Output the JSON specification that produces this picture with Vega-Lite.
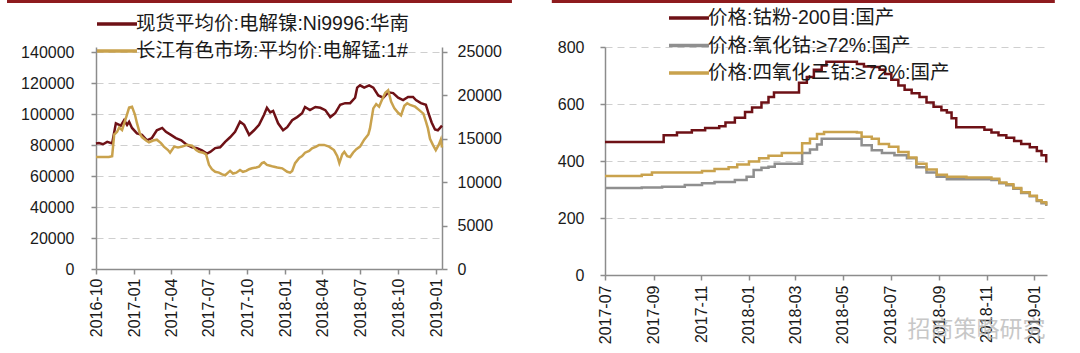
{
  "$schema": "https://vega.github.io/schema/vega-lite/v6.json",
  "autosize": {"type": "pad"},
  "padding": {"left": 5, "top": 0, "right": 5, "bottom": 5},
  "background": "white",
  "spacing": 163,
  "bounds": "flush",
  "resolve": {"scale": {"color": "independent"}, "legend": {"color": "independent"}},
  "config": {
    "view": {"stroke": null},
    "axis": {
      "domainColor": "#8c8c8c", "domainWidth": 1.5,
      "tickColor": "#8c8c8c", "tickSize": 5, "tickWidth": 1.5,
      "labelFont": "Liberation Sans", "labelFontSize": 16, "labelColor": "#1a1a1a",
      "gridColor": "#cfcfcf", "gridDash": [7, 5], "gridWidth": 1
    },
    "legend": {
      "orient": "none", "direction": "vertical", "symbolType": "M-2,0H2",
      "symbolSize": 400, "symbolStrokeWidth": 3.5,
      "labelFont": "Liberation Sans, Noto Sans CJK SC", "labelFontSize": 19.5,
      "labelColor": "#1a1a1a", "labelLimit": 600, "labelOffset": 7, "rowPadding": 5
    }
  },
  "datasets": {
    "ni": [
      {"date": "2016/10/01", "series": "现货平均价:电解镍:Ni9996:华南", "value": 81000},
      {"date": "2016/10/08", "series": "现货平均价:电解镍:Ni9996:华南", "value": 81300},
      {"date": "2016/10/18", "series": "现货平均价:电解镍:Ni9996:华南", "value": 80500},
      {"date": "2016/10/28", "series": "现货平均价:电解镍:Ni9996:华南", "value": 82000},
      {"date": "2016/11/09", "series": "现货平均价:电解镍:Ni9996:华南", "value": 81000},
      {"date": "2016/11/18", "series": "现货平均价:电解镍:Ni9996:华南", "value": 94000},
      {"date": "2016/11/30", "series": "现货平均价:电解镍:Ni9996:华南", "value": 92500},
      {"date": "2016/12/08", "series": "现货平均价:电解镍:Ni9996:华南", "value": 96000},
      {"date": "2016/12/15", "series": "现货平均价:电解镍:Ni9996:华南", "value": 93000},
      {"date": "2016/12/20", "series": "现货平均价:电解镍:Ni9996:华南", "value": 95000},
      {"date": "2016/12/27", "series": "现货平均价:电解镍:Ni9996:华南", "value": 91000},
      {"date": "2017/01/08", "series": "现货平均价:电解镍:Ni9996:华南", "value": 87500},
      {"date": "2017/01/20", "series": "现货平均价:电解镍:Ni9996:华南", "value": 86500},
      {"date": "2017/02/01", "series": "现货平均价:电解镍:Ni9996:华南", "value": 83000},
      {"date": "2017/02/13", "series": "现货平均价:电解镍:Ni9996:华南", "value": 84500},
      {"date": "2017/02/25", "series": "现货平均价:电解镍:Ni9996:华南", "value": 89500},
      {"date": "2017/03/10", "series": "现货平均价:电解镍:Ni9996:华南", "value": 91000},
      {"date": "2017/03/19", "series": "现货平均价:电解镍:Ni9996:华南", "value": 88500},
      {"date": "2017/03/31", "series": "现货平均价:电解镍:Ni9996:华南", "value": 86500},
      {"date": "2017/04/12", "series": "现货平均价:电解镍:Ni9996:华南", "value": 84500},
      {"date": "2017/04/25", "series": "现货平均价:电解镍:Ni9996:华南", "value": 83000},
      {"date": "2017/05/09", "series": "现货平均价:电解镍:Ni9996:华南", "value": 80000},
      {"date": "2017/05/21", "series": "现货平均价:电解镍:Ni9996:华南", "value": 78500},
      {"date": "2017/06/02", "series": "现货平均价:电解镍:Ni9996:华南", "value": 78000},
      {"date": "2017/06/14", "series": "现货平均价:电解镍:Ni9996:华南", "value": 76500},
      {"date": "2017/06/26", "series": "现货平均价:电解镍:Ni9996:华南", "value": 74500},
      {"date": "2017/07/04", "series": "现货平均价:电解镍:Ni9996:华南", "value": 75500},
      {"date": "2017/07/16", "series": "现货平均价:电解镍:Ni9996:华南", "value": 78000},
      {"date": "2017/07/28", "series": "现货平均价:电解镍:Ni9996:华南", "value": 78500},
      {"date": "2017/08/09", "series": "现货平均价:电解镍:Ni9996:华南", "value": 82000},
      {"date": "2017/08/21", "series": "现货平均价:电解镍:Ni9996:华南", "value": 85000},
      {"date": "2017/09/02", "series": "现货平均价:电解镍:Ni9996:华南", "value": 88500},
      {"date": "2017/09/14", "series": "现货平均价:电解镍:Ni9996:华南", "value": 95000},
      {"date": "2017/09/24", "series": "现货平均价:电解镍:Ni9996:华南", "value": 93000},
      {"date": "2017/10/06", "series": "现货平均价:电解镍:Ni9996:华南", "value": 86500},
      {"date": "2017/10/18", "series": "现货平均价:电解镍:Ni9996:华南", "value": 89500},
      {"date": "2017/10/30", "series": "现货平均价:电解镍:Ni9996:华南", "value": 93000},
      {"date": "2017/11/11", "series": "现货平均价:电解镍:Ni9996:华南", "value": 99500},
      {"date": "2017/11/18", "series": "现货平均价:电解镍:Ni9996:华南", "value": 104000},
      {"date": "2017/11/26", "series": "现货平均价:电解镍:Ni9996:华南", "value": 101000},
      {"date": "2017/12/03", "series": "现货平均价:电解镍:Ni9996:华南", "value": 102000},
      {"date": "2017/12/15", "series": "现货平均价:电解镍:Ni9996:华南", "value": 94000},
      {"date": "2017/12/27", "series": "现货平均价:电解镍:Ni9996:华南", "value": 89500},
      {"date": "2018/01/06", "series": "现货平均价:电解镍:Ni9996:华南", "value": 91500},
      {"date": "2018/01/18", "series": "现货平均价:电解镍:Ni9996:华南", "value": 96000},
      {"date": "2018/01/30", "series": "现货平均价:电解镍:Ni9996:华南", "value": 98000},
      {"date": "2018/02/11", "series": "现货平均价:电解镍:Ni9996:华南", "value": 100500},
      {"date": "2018/02/18", "series": "现货平均价:电解镍:Ni9996:华南", "value": 104500},
      {"date": "2018/03/02", "series": "现货平均价:电解镍:Ni9996:华南", "value": 102500},
      {"date": "2018/03/15", "series": "现货平均价:电解镍:Ni9996:华南", "value": 104500},
      {"date": "2018/03/27", "series": "现货平均价:电解镍:Ni9996:华南", "value": 104000},
      {"date": "2018/04/08", "series": "现货平均价:电解镍:Ni9996:华南", "value": 102500},
      {"date": "2018/04/20", "series": "现货平均价:电解镍:Ni9996:华南", "value": 98000},
      {"date": "2018/05/02", "series": "现货平均价:电解镍:Ni9996:华南", "value": 100500},
      {"date": "2018/05/14", "series": "现货平均价:电解镍:Ni9996:华南", "value": 106000},
      {"date": "2018/05/26", "series": "现货平均价:电解镍:Ni9996:华南", "value": 107000},
      {"date": "2018/06/07", "series": "现货平均价:电解镍:Ni9996:华南", "value": 107000},
      {"date": "2018/06/19", "series": "现货平均价:电解镍:Ni9996:华南", "value": 110500},
      {"date": "2018/06/24", "series": "现货平均价:电解镍:Ni9996:华南", "value": 117000},
      {"date": "2018/07/01", "series": "现货平均价:电解镍:Ni9996:华南", "value": 118500},
      {"date": "2018/07/11", "series": "现货平均价:电解镍:Ni9996:华南", "value": 117000},
      {"date": "2018/07/23", "series": "现货平均价:电解镍:Ni9996:华南", "value": 118500},
      {"date": "2018/08/02", "series": "现货平均价:电解镍:Ni9996:华南", "value": 117000},
      {"date": "2018/08/14", "series": "现货平均价:电解镍:Ni9996:华南", "value": 112000},
      {"date": "2018/08/26", "series": "现货平均价:电解镍:Ni9996:华南", "value": 110500},
      {"date": "2018/09/07", "series": "现货平均价:电解镍:Ni9996:华南", "value": 114000},
      {"date": "2018/09/19", "series": "现货平均价:电解镍:Ni9996:华南", "value": 113500},
      {"date": "2018/10/01", "series": "现货平均价:电解镍:Ni9996:华南", "value": 110500},
      {"date": "2018/10/13", "series": "现货平均价:电解镍:Ni9996:华南", "value": 109000},
      {"date": "2018/10/25", "series": "现货平均价:电解镍:Ni9996:华南", "value": 111000},
      {"date": "2018/11/06", "series": "现货平均价:电解镍:Ni9996:华南", "value": 111000},
      {"date": "2018/11/13", "series": "现货平均价:电解镍:Ni9996:华南", "value": 109000},
      {"date": "2018/11/25", "series": "现货平均价:电解镍:Ni9996:华南", "value": 107000},
      {"date": "2018/12/07", "series": "现货平均价:电解镍:Ni9996:华南", "value": 106000},
      {"date": "2018/12/14", "series": "现货平均价:电解镍:Ni9996:华南", "value": 100000},
      {"date": "2018/12/21", "series": "现货平均价:电解镍:Ni9996:华南", "value": 94500},
      {"date": "2018/12/29", "series": "现货平均价:电解镍:Ni9996:华南", "value": 90000},
      {"date": "2019/01/05", "series": "现货平均价:电解镍:Ni9996:华南", "value": 89500},
      {"date": "2019/01/15", "series": "现货平均价:电解镍:Ni9996:华南", "value": 92500}
    ],
    "mn": [
      {"date": "2016/10/01", "series": "长江有色市场:平均价:电解锰:1#", "value": 12900},
      {"date": "2016/11/01", "series": "长江有色市场:平均价:电解锰:1#", "value": 12900},
      {"date": "2016/11/09", "series": "长江有色市场:平均价:电解锰:1#", "value": 13000},
      {"date": "2016/11/14", "series": "长江有色市场:平均价:电解锰:1#", "value": 15500},
      {"date": "2016/11/21", "series": "长江有色市场:平均价:电解锰:1#", "value": 15800},
      {"date": "2016/11/26", "series": "长江有色市场:平均价:电解锰:1#", "value": 16300},
      {"date": "2016/12/03", "series": "长江有色市场:平均价:电解锰:1#", "value": 16000},
      {"date": "2016/12/13", "series": "长江有色市场:平均价:电解锰:1#", "value": 17500},
      {"date": "2016/12/20", "series": "长江有色市场:平均价:电解锰:1#", "value": 18600},
      {"date": "2016/12/27", "series": "长江有色市场:平均价:电解锰:1#", "value": 18700},
      {"date": "2017/01/03", "series": "长江有色市场:平均价:电解锰:1#", "value": 17800},
      {"date": "2017/01/08", "series": "长江有色市场:平均价:电解锰:1#", "value": 16800},
      {"date": "2017/01/15", "series": "长江有色市场:平均价:电解锰:1#", "value": 15600},
      {"date": "2017/01/20", "series": "长江有色市场:平均价:电解锰:1#", "value": 15200},
      {"date": "2017/01/30", "series": "长江有色市场:平均价:电解锰:1#", "value": 14800},
      {"date": "2017/02/06", "series": "长江有色市场:平均价:电解锰:1#", "value": 14600},
      {"date": "2017/02/16", "series": "长江有色市场:平均价:电解锰:1#", "value": 14800},
      {"date": "2017/02/25", "series": "长江有色市场:平均价:电解锰:1#", "value": 14900},
      {"date": "2017/03/07", "series": "长江有色市场:平均价:电解锰:1#", "value": 14500},
      {"date": "2017/03/14", "series": "长江有色市场:平均价:电解锰:1#", "value": 14100},
      {"date": "2017/03/24", "series": "长江有色市场:平均价:电解锰:1#", "value": 13700},
      {"date": "2017/03/29", "series": "长江有色市场:平均价:电解锰:1#", "value": 13400},
      {"date": "2017/04/08", "series": "长江有色市场:平均价:电解锰:1#", "value": 14100},
      {"date": "2017/04/17", "series": "长江有色市场:平均价:电解锰:1#", "value": 14000},
      {"date": "2017/04/27", "series": "长江有色市场:平均价:电解锰:1#", "value": 14100},
      {"date": "2017/05/09", "series": "长江有色市场:平均价:电解锰:1#", "value": 14300},
      {"date": "2017/05/21", "series": "长江有色市场:平均价:电解锰:1#", "value": 14200},
      {"date": "2017/05/31", "series": "长江有色市场:平均价:电解锰:1#", "value": 13700},
      {"date": "2017/06/07", "series": "长江有色市场:平均价:电解锰:1#", "value": 13500},
      {"date": "2017/06/17", "series": "长江有色市场:平均价:电解锰:1#", "value": 13400},
      {"date": "2017/06/24", "series": "长江有色市场:平均价:电解锰:1#", "value": 13200},
      {"date": "2017/07/01", "series": "长江有色市场:平均价:电解锰:1#", "value": 12000},
      {"date": "2017/07/08", "series": "长江有色市场:平均价:电解锰:1#", "value": 11500},
      {"date": "2017/07/16", "series": "长江有色市场:平均价:电解锰:1#", "value": 11200},
      {"date": "2017/07/25", "series": "长江有色市场:平均价:电解锰:1#", "value": 11100},
      {"date": "2017/08/02", "series": "长江有色市场:平均价:电解锰:1#", "value": 10900},
      {"date": "2017/08/09", "series": "长江有色市场:平均价:电解锰:1#", "value": 10800},
      {"date": "2017/08/16", "series": "长江有色市场:平均价:电解锰:1#", "value": 11100},
      {"date": "2017/08/21", "series": "长江有色市场:平均价:电解锰:1#", "value": 11300},
      {"date": "2017/08/28", "series": "长江有色市场:平均价:电解锰:1#", "value": 11000},
      {"date": "2017/09/05", "series": "长江有色市场:平均价:电解锰:1#", "value": 11100},
      {"date": "2017/09/14", "series": "长江有色市场:平均价:电解锰:1#", "value": 11400},
      {"date": "2017/09/21", "series": "长江有色市场:平均价:电解锰:1#", "value": 11200},
      {"date": "2017/09/29", "series": "长江有色市场:平均价:电解锰:1#", "value": 11300},
      {"date": "2017/10/06", "series": "长江有色市场:平均价:电解锰:1#", "value": 11500},
      {"date": "2017/10/13", "series": "长江有色市场:平均价:电解锰:1#", "value": 11600},
      {"date": "2017/10/23", "series": "长江有色市场:平均价:电解锰:1#", "value": 11700},
      {"date": "2017/10/30", "series": "长江有色市场:平均价:电解锰:1#", "value": 11800},
      {"date": "2017/11/06", "series": "长江有色市场:平均价:电解锰:1#", "value": 12200},
      {"date": "2017/11/11", "series": "长江有色市场:平均价:电解锰:1#", "value": 12300},
      {"date": "2017/11/18", "series": "长江有色市场:平均价:电解锰:1#", "value": 12000},
      {"date": "2017/11/26", "series": "长江有色市场:平均价:电解锰:1#", "value": 11900},
      {"date": "2017/12/03", "series": "长江有色市场:平均价:电解锰:1#", "value": 11800},
      {"date": "2017/12/13", "series": "长江有色市场:平均价:电解锰:1#", "value": 11700},
      {"date": "2017/12/25", "series": "长江有色市场:平均价:电解锰:1#", "value": 11600},
      {"date": "2018/01/06", "series": "长江有色市场:平均价:电解锰:1#", "value": 11200},
      {"date": "2018/01/13", "series": "长江有色市场:平均价:电解锰:1#", "value": 11100},
      {"date": "2018/01/18", "series": "长江有色市场:平均价:电解锰:1#", "value": 11300},
      {"date": "2018/01/25", "series": "长江有色市场:平均价:电解锰:1#", "value": 12200},
      {"date": "2018/02/04", "series": "长江有色市场:平均价:电解锰:1#", "value": 12800},
      {"date": "2018/02/11", "series": "长江有色市场:平均价:电解锰:1#", "value": 13000},
      {"date": "2018/02/18", "series": "长江有色市场:平均价:电解锰:1#", "value": 13400},
      {"date": "2018/02/28", "series": "长江有色市场:平均价:电解锰:1#", "value": 13600},
      {"date": "2018/03/07", "series": "长江有色市场:平均价:电解锰:1#", "value": 13900},
      {"date": "2018/03/17", "series": "长江有色市场:平均价:电解锰:1#", "value": 14100},
      {"date": "2018/03/24", "series": "长江有色市场:平均价:电解锰:1#", "value": 14300},
      {"date": "2018/04/05", "series": "长江有色市场:平均价:电解锰:1#", "value": 14300},
      {"date": "2018/04/17", "series": "长江有色市场:平均价:电解锰:1#", "value": 14100},
      {"date": "2018/04/29", "series": "长江有色市场:平均价:电解锰:1#", "value": 13700},
      {"date": "2018/05/07", "series": "长江有色市场:平均价:电解锰:1#", "value": 13000},
      {"date": "2018/05/12", "series": "长江有色市场:平均价:电解锰:1#", "value": 12200},
      {"date": "2018/05/19", "series": "长江有色市场:平均价:电解锰:1#", "value": 13200},
      {"date": "2018/05/24", "series": "长江有色市场:平均价:电解锰:1#", "value": 13500},
      {"date": "2018/05/31", "series": "长江有色市场:平均价:电解锰:1#", "value": 13000},
      {"date": "2018/06/07", "series": "长江有色市场:平均价:电解锰:1#", "value": 12900},
      {"date": "2018/06/14", "series": "长江有色市场:平均价:电解锰:1#", "value": 13400},
      {"date": "2018/06/22", "series": "长江有色市场:平均价:电解锰:1#", "value": 13800},
      {"date": "2018/07/01", "series": "长江有色市场:平均价:电解锰:1#", "value": 14100},
      {"date": "2018/07/11", "series": "长江有色市场:平均价:电解锰:1#", "value": 14900},
      {"date": "2018/07/21", "series": "长江有色市场:平均价:电解锰:1#", "value": 15500},
      {"date": "2018/07/25", "series": "长江有色市场:平均价:电解锰:1#", "value": 16200},
      {"date": "2018/08/02", "series": "长江有色市场:平均价:电解锰:1#", "value": 18500},
      {"date": "2018/08/09", "series": "长江有色市场:平均价:电解锰:1#", "value": 19000},
      {"date": "2018/08/16", "series": "长江有色市场:平均价:电解锰:1#", "value": 18700},
      {"date": "2018/08/23", "series": "长江有色市场:平均价:电解锰:1#", "value": 19500},
      {"date": "2018/08/31", "series": "长江有色市场:平均价:电解锰:1#", "value": 20300},
      {"date": "2018/09/07", "series": "长江有色市场:平均价:电解锰:1#", "value": 20600},
      {"date": "2018/09/14", "series": "长江有色市场:平均价:电解锰:1#", "value": 19300},
      {"date": "2018/09/22", "series": "长江有色市场:平均价:电解锰:1#", "value": 18500},
      {"date": "2018/10/01", "series": "长江有色市场:平均价:电解锰:1#", "value": 18000},
      {"date": "2018/10/08", "series": "长江有色市场:平均价:电解锰:1#", "value": 17700},
      {"date": "2018/10/16", "series": "长江有色市场:平均价:电解锰:1#", "value": 18800},
      {"date": "2018/10/23", "series": "长江有色市场:平均价:电解锰:1#", "value": 19100},
      {"date": "2018/10/30", "series": "长江有色市场:平均价:电解锰:1#", "value": 18900},
      {"date": "2018/11/11", "series": "长江有色市场:平均价:电解锰:1#", "value": 18700},
      {"date": "2018/11/21", "series": "长江有色市场:平均价:电解锰:1#", "value": 18300},
      {"date": "2018/12/01", "series": "长江有色市场:平均价:电解锰:1#", "value": 17900},
      {"date": "2018/12/07", "series": "长江有色市场:平均价:电解锰:1#", "value": 17000},
      {"date": "2018/12/12", "series": "长江有色市场:平均价:电解锰:1#", "value": 16200},
      {"date": "2018/12/17", "series": "长江有色市场:平均价:电解锰:1#", "value": 15000},
      {"date": "2018/12/24", "series": "长江有色市场:平均价:电解锰:1#", "value": 14300},
      {"date": "2018/12/31", "series": "长江有色市场:平均价:电解锰:1#", "value": 13700},
      {"date": "2019/01/07", "series": "长江有色市场:平均价:电解锰:1#", "value": 14300},
      {"date": "2019/01/12", "series": "长江有色市场:平均价:电解锰:1#", "value": 14900},
      {"date": "2019/01/15", "series": "长江有色市场:平均价:电解锰:1#", "value": 14000}
    ],
    "co": [
      {"date": "2017/07/01", "series": "价格:钴粉-200目:国产", "value": 467},
      {"date": "2017/09/14", "series": "价格:钴粉-200目:国产", "value": 490},
      {"date": "2017/10/01", "series": "价格:钴粉-200目:国产", "value": 500},
      {"date": "2017/10/20", "series": "价格:钴粉-200目:国产", "value": 508},
      {"date": "2017/11/06", "series": "价格:钴粉-200目:国产", "value": 516},
      {"date": "2017/11/24", "series": "价格:钴粉-200目:国产", "value": 522},
      {"date": "2017/12/02", "series": "价格:钴粉-200目:国产", "value": 535},
      {"date": "2017/12/14", "series": "价格:钴粉-200目:国产", "value": 552},
      {"date": "2017/12/27", "series": "价格:钴粉-200目:国产", "value": 572},
      {"date": "2018/01/05", "series": "价格:钴粉-200目:国产", "value": 588},
      {"date": "2018/01/17", "series": "价格:钴粉-200目:国产", "value": 605},
      {"date": "2018/01/26", "series": "价格:钴粉-200目:国产", "value": 625},
      {"date": "2018/02/02", "series": "价格:钴粉-200目:国产", "value": 640},
      {"date": "2018/03/06", "series": "价格:钴粉-200目:国产", "value": 675},
      {"date": "2018/03/16", "series": "价格:钴粉-200目:国产", "value": 695},
      {"date": "2018/03/25", "series": "价格:钴粉-200目:国产", "value": 720},
      {"date": "2018/04/04", "series": "价格:钴粉-200目:国产", "value": 735},
      {"date": "2018/04/10", "series": "价格:钴粉-200目:国产", "value": 748},
      {"date": "2018/05/19", "series": "价格:钴粉-200目:国产", "value": 740},
      {"date": "2018/05/28", "series": "价格:钴粉-200目:国产", "value": 732},
      {"date": "2018/06/07", "series": "价格:钴粉-200目:国产", "value": 730},
      {"date": "2018/06/17", "series": "价格:钴粉-200目:国产", "value": 720},
      {"date": "2018/06/24", "series": "价格:钴粉-200目:国产", "value": 705},
      {"date": "2018/07/02", "series": "价格:钴粉-200目:国产", "value": 685},
      {"date": "2018/07/11", "series": "价格:钴粉-200目:国产", "value": 665},
      {"date": "2018/07/19", "series": "价格:钴粉-200目:国产", "value": 650},
      {"date": "2018/07/28", "series": "价格:钴粉-200目:国产", "value": 638},
      {"date": "2018/08/07", "series": "价格:钴粉-200目:国产", "value": 625},
      {"date": "2018/08/16", "series": "价格:钴粉-200目:国产", "value": 605},
      {"date": "2018/08/25", "series": "价格:钴粉-200目:国产", "value": 590},
      {"date": "2018/09/04", "series": "价格:钴粉-200目:国产", "value": 578},
      {"date": "2018/09/11", "series": "价格:钴粉-200目:国产", "value": 570},
      {"date": "2018/09/17", "series": "价格:钴粉-200目:国产", "value": 550},
      {"date": "2018/09/23", "series": "价格:钴粉-200目:国产", "value": 518},
      {"date": "2018/10/29", "series": "价格:钴粉-200目:国产", "value": 510},
      {"date": "2018/11/07", "series": "价格:钴粉-200目:国产", "value": 500},
      {"date": "2018/11/16", "series": "价格:钴粉-200目:国产", "value": 490},
      {"date": "2018/11/26", "series": "价格:钴粉-200目:国产", "value": 482},
      {"date": "2018/12/06", "series": "价格:钴粉-200目:国产", "value": 470},
      {"date": "2018/12/15", "series": "价格:钴粉-200目:国产", "value": 460},
      {"date": "2018/12/26", "series": "价格:钴粉-200目:国产", "value": 448},
      {"date": "2019/01/04", "series": "价格:钴粉-200目:国产", "value": 435},
      {"date": "2019/01/10", "series": "价格:钴粉-200目:国产", "value": 420},
      {"date": "2019/01/16", "series": "价格:钴粉-200目:国产", "value": 395},
      {"date": "2017/07/01", "series": "价格:氧化钴:≥72%:国产", "value": 305},
      {"date": "2017/08/17", "series": "价格:氧化钴:≥72%:国产", "value": 307},
      {"date": "2017/09/12", "series": "价格:氧化钴:≥72%:国产", "value": 310},
      {"date": "2017/10/11", "series": "价格:氧化钴:≥72%:国产", "value": 316},
      {"date": "2017/11/02", "series": "价格:氧化钴:≥72%:国产", "value": 322},
      {"date": "2017/11/18", "series": "价格:氧化钴:≥72%:国产", "value": 326},
      {"date": "2017/12/14", "series": "价格:氧化钴:≥72%:国产", "value": 333},
      {"date": "2017/12/29", "series": "价格:氧化钴:≥72%:国产", "value": 345},
      {"date": "2018/01/07", "series": "价格:氧化钴:≥72%:国产", "value": 368},
      {"date": "2018/01/17", "series": "价格:氧化钴:≥72%:国产", "value": 376},
      {"date": "2018/01/26", "series": "价格:氧化钴:≥72%:国产", "value": 380},
      {"date": "2018/02/03", "series": "价格:氧化钴:≥72%:国产", "value": 390},
      {"date": "2018/03/10", "series": "价格:氧化钴:≥72%:国产", "value": 428},
      {"date": "2018/03/20", "series": "价格:氧化钴:≥72%:国产", "value": 440},
      {"date": "2018/03/29", "series": "价格:氧化钴:≥72%:国产", "value": 458},
      {"date": "2018/04/04", "series": "价格:氧化钴:≥72%:国产", "value": 478},
      {"date": "2018/05/19", "series": "价格:氧化钴:≥72%:国产", "value": 478},
      {"date": "2018/05/25", "series": "价格:氧化钴:≥72%:国产", "value": 455},
      {"date": "2018/06/07", "series": "价格:氧化钴:≥72%:国产", "value": 438},
      {"date": "2018/06/20", "series": "价格:氧化钴:≥72%:国产", "value": 428},
      {"date": "2018/07/06", "series": "价格:氧化钴:≥72%:国产", "value": 420},
      {"date": "2018/07/22", "series": "价格:氧化钴:≥72%:国产", "value": 410},
      {"date": "2018/08/03", "series": "价格:氧化钴:≥72%:国产", "value": 378},
      {"date": "2018/08/16", "series": "价格:氧化钴:≥72%:国产", "value": 360},
      {"date": "2018/08/29", "series": "价格:氧化钴:≥72%:国产", "value": 345},
      {"date": "2018/09/11", "series": "价格:氧化钴:≥72%:国产", "value": 336},
      {"date": "2018/11/07", "series": "价格:氧化钴:≥72%:国产", "value": 333},
      {"date": "2018/11/17", "series": "价格:氧化钴:≥72%:国产", "value": 322},
      {"date": "2018/11/26", "series": "价格:氧化钴:≥72%:国产", "value": 315},
      {"date": "2018/12/05", "series": "价格:氧化钴:≥72%:国产", "value": 303},
      {"date": "2018/12/15", "series": "价格:氧化钴:≥72%:国产", "value": 288},
      {"date": "2018/12/26", "series": "价格:氧化钴:≥72%:国产", "value": 276},
      {"date": "2019/01/04", "series": "价格:氧化钴:≥72%:国产", "value": 260},
      {"date": "2019/01/10", "series": "价格:氧化钴:≥72%:国产", "value": 252},
      {"date": "2019/01/16", "series": "价格:氧化钴:≥72%:国产", "value": 242},
      {"date": "2017/07/01", "series": "价格:四氧化三钴:≥72%:国产", "value": 347},
      {"date": "2017/08/17", "series": "价格:四氧化三钴:≥72%:国产", "value": 352},
      {"date": "2017/08/30", "series": "价格:四氧化三钴:≥72%:国产", "value": 360},
      {"date": "2017/11/02", "series": "价格:四氧化三钴:≥72%:国产", "value": 365},
      {"date": "2017/11/18", "series": "价格:四氧化三钴:≥72%:国产", "value": 372},
      {"date": "2017/12/06", "series": "价格:四氧化三钴:≥72%:国产", "value": 378},
      {"date": "2017/12/17", "series": "价格:四氧化三钴:≥72%:国产", "value": 388},
      {"date": "2018/01/01", "series": "价格:四氧化三钴:≥72%:国产", "value": 398},
      {"date": "2018/01/14", "series": "价格:四氧化三钴:≥72%:国产", "value": 410},
      {"date": "2018/01/26", "series": "价格:四氧化三钴:≥72%:国产", "value": 418},
      {"date": "2018/02/12", "series": "价格:四氧化三钴:≥72%:国产", "value": 428},
      {"date": "2018/03/10", "series": "价格:四氧化三钴:≥72%:国产", "value": 462},
      {"date": "2018/03/20", "series": "价格:四氧化三钴:≥72%:国产", "value": 478},
      {"date": "2018/03/29", "series": "价格:四氧化三钴:≥72%:国产", "value": 495},
      {"date": "2018/04/07", "series": "价格:四氧化三钴:≥72%:国产", "value": 502},
      {"date": "2018/05/19", "series": "价格:四氧化三钴:≥72%:国产", "value": 500},
      {"date": "2018/05/25", "series": "价格:四氧化三钴:≥72%:国产", "value": 485},
      {"date": "2018/06/07", "series": "价格:四氧化三钴:≥72%:国产", "value": 478},
      {"date": "2018/06/16", "series": "价格:四氧化三钴:≥72%:国产", "value": 460},
      {"date": "2018/06/29", "series": "价格:四氧化三钴:≥72%:国产", "value": 450},
      {"date": "2018/07/11", "series": "价格:四氧化三钴:≥72%:国产", "value": 432},
      {"date": "2018/07/24", "series": "价格:四氧化三钴:≥72%:国产", "value": 412},
      {"date": "2018/08/03", "series": "价格:四氧化三钴:≥72%:国产", "value": 390},
      {"date": "2018/08/16", "series": "价格:四氧化三钴:≥72%:国产", "value": 370},
      {"date": "2018/08/29", "series": "价格:四氧化三钴:≥72%:国产", "value": 352},
      {"date": "2018/09/11", "series": "价格:四氧化三钴:≥72%:国产", "value": 345},
      {"date": "2018/10/06", "series": "价格:四氧化三钴:≥72%:国产", "value": 342},
      {"date": "2018/11/07", "series": "价格:四氧化三钴:≥72%:国产", "value": 338},
      {"date": "2018/11/17", "series": "价格:四氧化三钴:≥72%:国产", "value": 325},
      {"date": "2018/11/26", "series": "价格:四氧化三钴:≥72%:国产", "value": 318},
      {"date": "2018/12/05", "series": "价格:四氧化三钴:≥72%:国产", "value": 305},
      {"date": "2018/12/15", "series": "价格:四氧化三钴:≥72%:国产", "value": 290},
      {"date": "2018/12/26", "series": "价格:四氧化三钴:≥72%:国产", "value": 278},
      {"date": "2019/01/04", "series": "价格:四氧化三钴:≥72%:国产", "value": 262},
      {"date": "2019/01/10", "series": "价格:四氧化三钴:≥72%:国产", "value": 255},
      {"date": "2019/01/16", "series": "价格:四氧化三钴:≥72%:国产", "value": 245}
    ]
  },
  "hconcat": [
    {
      "width": 346,
      "height": 222,
      "layer": [
        {
          "data": {"name": "ni"},
          "mark": {"type": "line", "strokeWidth": 2.5},
          "encoding": {
            "x": {
              "field": "date", "type": "temporal", "title": null,
              "scale": {"domain": [{"year": 2016, "month": 10, "date": 1}, {"year": 2019, "month": 1, "date": 15}], "nice": false},
              "axis": {
                "format": "%Y-%m", "labelAngle": -90, "labelPadding": 4, "labelFlush": false, "labelOverlap": false, "grid": false,
                "values": [
                  {"year": 2016, "month": 10, "date": 1}, {"year": 2017, "month": 1, "date": 1}, {"year": 2017, "month": 4, "date": 1},
                  {"year": 2017, "month": 7, "date": 1}, {"year": 2017, "month": 10, "date": 1}, {"year": 2018, "month": 1, "date": 1},
                  {"year": 2018, "month": 4, "date": 1}, {"year": 2018, "month": 7, "date": 1}, {"year": 2018, "month": 10, "date": 1},
                  {"year": 2019, "month": 1, "date": 1}
                ]
              }
            },
            "y": {
              "field": "value", "type": "quantitative", "title": null,
              "scale": {"domain": [0, 143226], "nice": false},
              "axis": {"orient": "left", "format": "d", "values": [0, 20000, 40000, 60000, 80000, 100000, 120000, 140000], "grid": true, "labelPadding": 17}
            },
            "color": {
              "field": "series", "type": "nominal",
              "scale": {"domain": ["现货平均价:电解镍:Ni9996:华南", "长江有色市场:平均价:电解锰:1#"], "range": ["#6e1116", "#c9a24d"]},
              "legend": {"title": null, "legendX": 9, "legendY": -35}
            }
          }
        },
        {
          "data": {"name": "mn"},
          "mark": {"type": "line", "strokeWidth": 2.5},
          "encoding": {
            "x": {
              "field": "date", "type": "temporal", "title": null,
              "axis": {
                "format": "%Y-%m", "labelAngle": -90, "labelPadding": 4, "labelFlush": false, "labelOverlap": false, "grid": false,
                "values": [
                  {"year": 2016, "month": 10, "date": 1}, {"year": 2017, "month": 1, "date": 1}, {"year": 2017, "month": 4, "date": 1},
                  {"year": 2017, "month": 7, "date": 1}, {"year": 2017, "month": 10, "date": 1}, {"year": 2018, "month": 1, "date": 1},
                  {"year": 2018, "month": 4, "date": 1}, {"year": 2018, "month": 7, "date": 1}, {"year": 2018, "month": 10, "date": 1},
                  {"year": 2019, "month": 1, "date": 1}
                ]
              }
            },
            "y": {
              "field": "value", "type": "quantitative", "title": null,
              "scale": {"domain": [0, 25576], "nice": false},
              "axis": {"orient": "right", "format": "d", "values": [0, 5000, 10000, 15000, 20000, 25000], "grid": false, "labelPadding": 10}
            },
            "color": {"field": "series", "type": "nominal"}
          }
        },
        {
          "data": {"values": [{"bar": "top"}]},
          "mark": {"type": "rule", "strokeWidth": 3, "color": "#8e1b1e"},
          "encoding": {
            "x": {
              "datum": {"year": 2016, "month": 2, "date": 29}, "type": "temporal", "title": null,
              "axis": {
                "format": "%Y-%m", "labelAngle": -90, "labelPadding": 4, "labelFlush": false, "labelOverlap": false, "grid": false,
                "values": [
                  {"year": 2016, "month": 10, "date": 1}, {"year": 2017, "month": 1, "date": 1}, {"year": 2017, "month": 4, "date": 1},
                  {"year": 2017, "month": 7, "date": 1}, {"year": 2017, "month": 10, "date": 1}, {"year": 2018, "month": 1, "date": 1},
                  {"year": 2018, "month": 4, "date": 1}, {"year": 2018, "month": 7, "date": 1}, {"year": 2018, "month": 10, "date": 1},
                  {"year": 2019, "month": 1, "date": 1}
                ]
              }
            },
            "x2": {"datum": {"year": 2019, "month": 7, "date": 3}},
            "y": {"datum": 172580, "type": "quantitative", "scale": {"domain": [0, 143226], "nice": false}, "axis": null}
          }
        }
      ],
      "resolve": {"scale": {"y": "independent"}}
    },
    {
      "width": 442,
      "height": 228,
      "layer": [
        {
          "data": {"name": "co"},
          "mark": {"type": "line", "strokeWidth": 2.5, "interpolate": "step-after"},
          "encoding": {
            "x": {
              "field": "date", "type": "temporal", "title": null,
              "scale": {"domain": [{"year": 2017, "month": 7, "date": 1}, {"year": 2019, "month": 1, "date": 17}], "nice": false},
              "axis": {
                "format": "%Y-%m", "labelAngle": -90, "labelPadding": 5, "labelFlush": false, "labelOverlap": false, "grid": false,
                "values": [
                  {"year": 2017, "month": 7, "date": 1}, {"year": 2017, "month": 9, "date": 1}, {"year": 2017, "month": 11, "date": 1},
                  {"year": 2018, "month": 1, "date": 1}, {"year": 2018, "month": 3, "date": 1}, {"year": 2018, "month": 5, "date": 1},
                  {"year": 2018, "month": 7, "date": 1}, {"year": 2018, "month": 9, "date": 1}, {"year": 2018, "month": 11, "date": 1},
                  {"year": 2019, "month": 1, "date": 1}
                ]
              }
            },
            "y": {
              "field": "value", "type": "quantitative", "title": null,
              "scale": {"domain": [0, 800], "nice": false},
              "axis": {"values": [0, 200, 400, 600, 800], "grid": true, "labelPadding": 16}
            },
            "color": {
              "field": "series", "type": "nominal",
              "scale": {"domain": ["价格:钴粉-200目:国产", "价格:氧化钴:≥72%:国产", "价格:四氧化三钴:≥72%:国产"], "range": ["#6e1116", "#8f8f8f", "#c9a24d"]},
              "legend": {"title": null, "legendX": 72, "legendY": -41, "rowPadding": 5.5}
            }
          }
        },
        {
          "data": {"values": [{"bar": "top"}]},
          "mark": {"type": "rule", "strokeWidth": 3, "color": "#8e1b1e"},
          "encoding": {
            "x": {"datum": {"year": 2017, "month": 4, "date": 24}, "type": "temporal"},
            "x2": {"datum": {"year": 2019, "month": 1, "date": 27}},
            "y": {"datum": 959.6, "type": "quantitative"}
          }
        },
        {
          "data": {"values": [{"label": "招商策略研究"}]},
          "mark": {"type": "text", "font": "Noto Sans CJK SC", "fontSize": 23, "color": "#b5b5b5", "opacity": 0.75, "align": "center", "baseline": "middle"},
          "encoding": {
            "x": {"datum": {"year": 2018, "month": 10, "date": 19}, "type": "temporal"},
            "y": {"datum": -193, "type": "quantitative"},
            "text": {"field": "label", "type": "nominal"}
          }
        }
      ]
    }
  ]
}
